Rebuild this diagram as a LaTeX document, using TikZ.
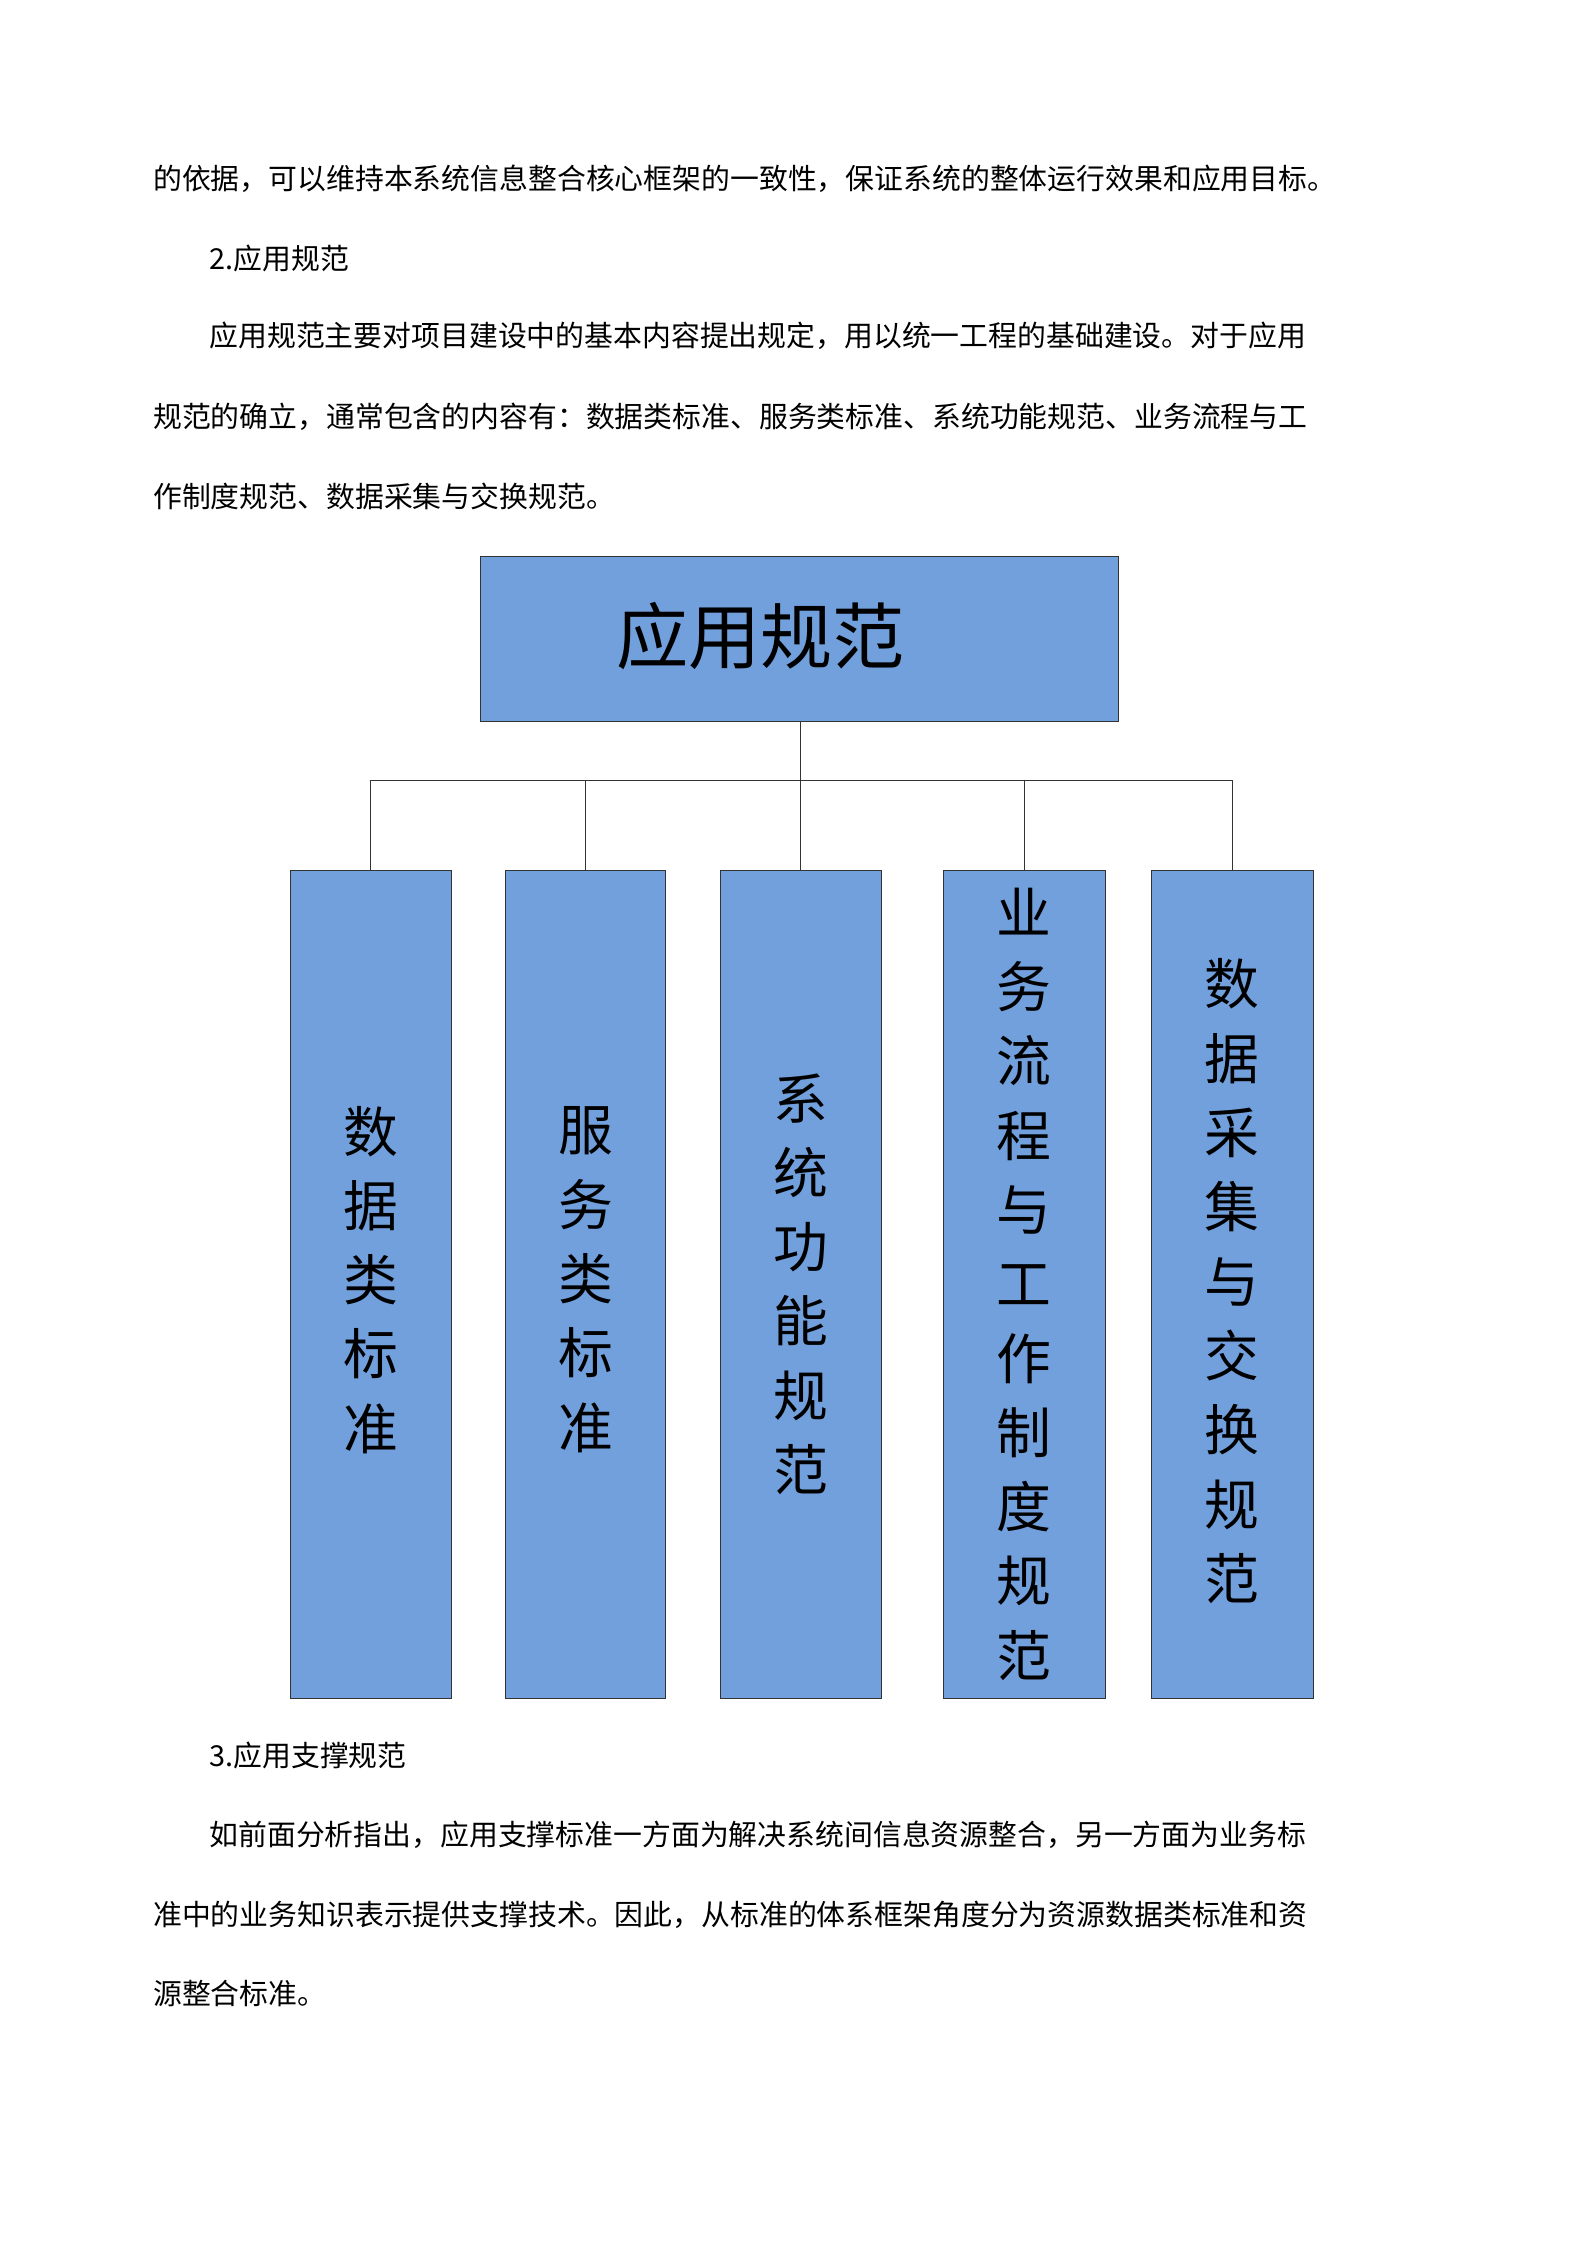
\documentclass[tikz,border=0pt]{standalone}
\usepackage{fontspec}
\setmainfont{Noto Sans CJK SC}
\begin{document}
\begin{tikzpicture}[x=1pt,y=-1pt,
  para/.style={anchor=west,inner sep=0,font=\fontsize{20}{24}\selectfont},
  box/.style={draw=black!80,fill=boxblue,line width=0.6pt},
  vtext/.style={align=center,font=\fontsize{38}{51.5}\selectfont,inner sep=0},
  conn/.style={draw=black!80,line width=0.8pt}]
\definecolor{boxblue}{HTML}{71A0DC}
\useasboundingbox (0,0) rectangle (1100,1556);
\node[para] (p1) at (106,124) {的依据，可以维持本系统信息整合核心框架的一致性，保证系统的整体运行效果和应用目标。};
\node[para] (p2) at (145,179) {2.应用规范};
\node[para] (p3) at (145,233) {应用规范主要对项目建设中的基本内容提出规定，用以统一工程的基础建设。对于应用};
\node[para] (p4) at (106,289) {规范的确立，通常包含的内容有：数据类标准、服务类标准、系统功能规范、业务流程与工};
\node[para] (p5) at (106,344) {作制度规范、数据采集与交换规范。};
\draw[box] (333,386) rectangle (775,500);
\node[font=\fontsize{50}{50}\selectfont,inner sep=0] (top) at (527,441) {应用规范};
\coordinate (tb) at (555,500);
\coordinate (hub) at (555,541);
\draw[box] (201,603) rectangle (313,1177);
\draw[box] (350,603) rectangle (461,1177);
\draw[box] (499,603) rectangle (611,1177);
\draw[box] (654,603) rectangle (766,1177);
\draw[box] (798,603) rectangle (910,1177);
\coordinate (t1) at (257,603); \coordinate (t2) at (406,603); \coordinate (t3) at (555,603);
\coordinate (t4) at (710,603); \coordinate (t5) at (854,603);
\draw[conn] (tb) -- (hub);
\draw[conn] (t1) |- (hub) -| (t5);
\draw[conn] (t2) -- (t2 |- hub);
\draw[conn] (t3) -- (hub);
\draw[conn] (t4) -- (t4 |- hub);
\node[vtext] (b1) at (257,887) {数\\据\\类\\标\\准};
\node[vtext] (b2) at (406,887) {服\\务\\类\\标\\准};
\node[vtext] (b3) at (555,890) {系\\统\\功\\能\\规\\范};
\node[vtext] (b4) at (710,890) {业\\务\\流\\程\\与\\工\\作\\制\\度\\规\\范};
\node[vtext] (b5) at (854,888) {数\\据\\采\\集\\与\\交\\换\\规\\范};
\node[para] (q1) at (145,1217) {3.应用支撑规范};
\node[para] (q2) at (145,1272) {如前面分析指出，应用支撑标准一方面为解决系统间信息资源整合，另一方面为业务标};
\node[para] (q3) at (106,1327) {准中的业务知识表示提供支撑技术。因此，从标准的体系框架角度分为资源数据类标准和资};
\node[para] (q4) at (106,1382) {源整合标准。};
\end{tikzpicture}
\end{document}
